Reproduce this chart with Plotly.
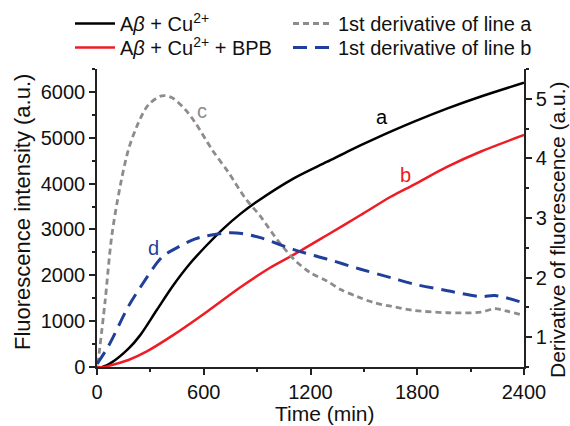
import plotly.graph_objects as go

# Fluorescence intensity (left axis)
t_a = [0, 30, 83, 177, 242, 336, 430, 524, 618, 712, 806, 900, 1106, 1294, 1425, 1557, 1782, 1970, 2158, 2400]
v_a = [0, 0, 100, 400, 690, 1243, 1788, 2262, 2661, 3025, 3340, 3610, 4115, 4478, 4733, 4971, 5350, 5640, 5900, 6200]

t_b = [0, 40, 83, 177, 280, 430, 618, 806, 975, 1106, 1294, 1482, 1651, 1782, 1970, 2158, 2400]
v_b = [0, 0, 44, 153, 340, 700, 1206, 1740, 2170, 2450, 2879, 3315, 3714, 3980, 4370, 4700, 5060]

# First derivatives (right axis)
t_c = [5, 45, 83, 130, 177, 233, 289, 364, 420, 496, 552, 646, 740, 834, 918, 1012, 1106, 1200, 1294, 1369, 1463, 1557, 1651, 1782, 1970, 2158, 2236, 2300, 2392]
v_c = [0.55, 1.59, 2.70, 3.53, 4.15, 4.60, 4.90, 5.05, 5.02, 4.82, 4.60, 4.15, 3.76, 3.33, 3.03, 2.64, 2.31, 2.08, 1.94, 1.80, 1.68, 1.58, 1.52, 1.45, 1.41, 1.42, 1.48, 1.44, 1.37]

t_d = [0, 64, 177, 242, 364, 430, 552, 618, 730, 815, 918, 1106, 1294, 1482, 1651, 1782, 1970, 2158, 2236, 2392]
v_d = [0.55, 0.85, 1.52, 1.83, 2.34, 2.47, 2.65, 2.70, 2.75, 2.74, 2.67, 2.47, 2.31, 2.14, 2.00, 1.89, 1.78, 1.68, 1.70, 1.58]

names = ["A<i>β</i> + Cu<sup>2+</sup>", "A<i>β</i> + Cu<sup>2+</sup> + BPB",
         "1st derivative of line a", "1st derivative of line b"]
curve_labels = ["a", "b", "c", "d"]

FONT = "Liberation Sans, Arial, sans-serif"
BLACK = "#000000"
RED = "#ee1c25"
GRAY = "#8c8c8c"
BLUE = "#1f3f9a"

fig = go.Figure()
fig.add_trace(go.Scatter(x=t_a, y=v_a, mode="lines", line=dict(color=BLACK, width=2.5, shape="spline", smoothing=0.9),
                         name=names[0], legend="legend"))
fig.add_trace(go.Scatter(x=t_b, y=v_b, mode="lines", line=dict(color=RED, width=2.5, shape="spline", smoothing=0.9),
                         name=names[1], legend="legend2"))
fig.add_trace(go.Scatter(x=t_c, y=v_c, mode="lines", yaxis="y2",
                         line=dict(color=GRAY, width=2.8, dash="6px,4px", shape="spline", smoothing=0.9),
                         name=names[2], legend="legend3"))
fig.add_trace(go.Scatter(x=t_d, y=v_d, mode="lines", yaxis="y2",
                         line=dict(color=BLUE, width=3, dash="14px,8px", shape="spline", smoothing=0.9),
                         name=names[3], legend="legend4"))

for txt, x, y, c, yr in [(curve_labels[2], 590, 4.79, GRAY, "y2"), (curve_labels[0], 1604, 5460, BLACK, "y"),
                         (curve_labels[1], 1735, 4190, RED, "y"), (curve_labels[3], 317, 2.50, BLUE, "y2")]:
    fig.add_annotation(x=x, y=y, xref="x", yref=yr, text=txt, showarrow=False,
                       font=dict(size=20, color=c, family=FONT))

# axis titles as paper-anchored annotations
W, H = 570, 426
L, R, T, B = 97, 46, 69, 59
pw, ph = W - L - R, H - T - B
def px(xp):
    return (xp - L) / pw
def py(yp):
    return (H - B - yp) / ph

fig.add_annotation(x=px(325), y=py(413), xref="paper", yref="paper", text="Time (min)", showarrow=False,
                   font=dict(size=21, family=FONT, color="#111"), xanchor="center", yanchor="middle")
fig.add_annotation(x=px(22), y=py(212), xref="paper", yref="paper", text="Fluorescence intensity (a.u.)",
                   showarrow=False, textangle=-90, font=dict(size=22, family=FONT, color="#111"),
                   xanchor="center", yanchor="middle")
fig.add_annotation(x=px(558), y=py(230), xref="paper", yref="paper", text="Derivative of fluorescence (a.u.)",
                   showarrow=False, textangle=-90, font=dict(size=21, family=FONT, color="#111"),
                   xanchor="center", yanchor="middle")

axis_common = dict(showgrid=False, zeroline=False, showline=True, linecolor="#222", linewidth=1.5,
                   ticks="outside", ticklen=6, tickwidth=1.5, tickcolor="#222", automargin=False,
                   tickfont=dict(size=20, color="#111", family=FONT))
minor_common = dict(ticks="outside", ticklen=3.5, tickwidth=1.5, tickcolor="#222")

leg_common = dict(xanchor="left", yanchor="top", bgcolor="rgba(0,0,0,0)",
                  font=dict(size=20, family=FONT, color="#111"), itemwidth=40)

fig.update_layout(
    width=W, height=H,
    margin=dict(l=L, r=R, t=T, b=B, autoexpand=False),
    paper_bgcolor="white", plot_bgcolor="white",
    font=dict(family=FONT, color="#111"),
    xaxis=dict(range=[0, 2400], tickvals=[0, 600, 1200, 1800, 2400],
               minor=dict(dtick=300, **minor_common), **axis_common),
    yaxis=dict(range=[0, 6500], tickvals=[0, 1000, 2000, 3000, 4000, 5000, 6000],
               minor=dict(dtick=500, **minor_common), **axis_common),
    yaxis2=dict(range=[0.5, 5.5], tickvals=[1, 2, 3, 4, 5], overlaying="y", side="right", anchor="x",
                minor=dict(dtick=0.5, **minor_common), **axis_common),
    legend=dict(x=px(70), y=py(4), **leg_common),
    legend2=dict(x=px(70), y=py(28), **leg_common),
    legend3=dict(x=px(288), y=py(4), **leg_common),
    legend4=dict(x=px(288), y=py(28), **leg_common),
    showlegend=True,
)

fig.write_html("out.html")
